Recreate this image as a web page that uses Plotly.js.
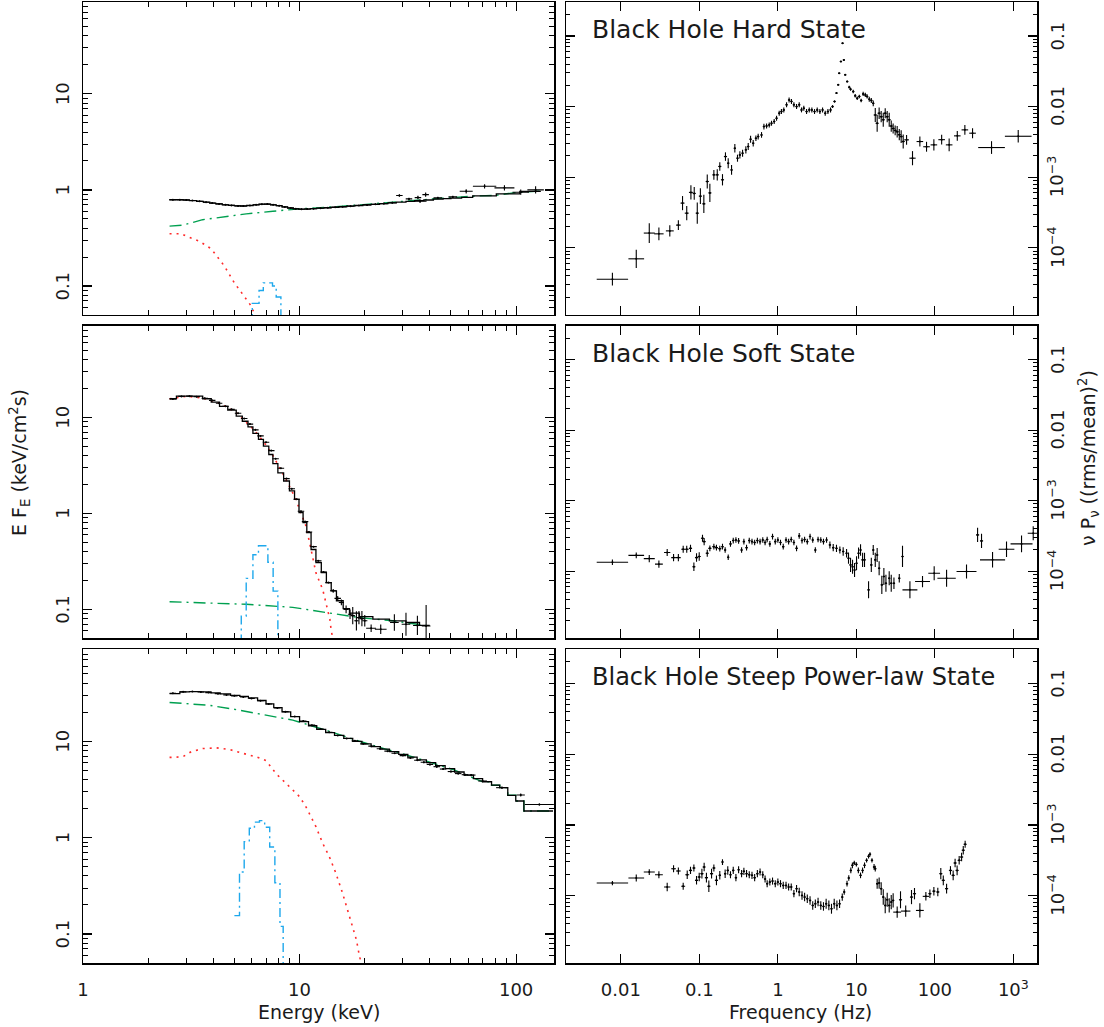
<!DOCTYPE html>
<html><head><meta charset="utf-8">
<script src="https://cdn.plot.ly/plotly-3.0.1.min.js"></script>
<style>html,body{margin:0;padding:0;background:#fff}</style>
</head><body>
<div id="chart" style="width:1104px;height:1027px"></div>
<script>
// ---------------- Energy spectra (left column) ----------------
// Hard state
const hardModelEdges = [2.5,2.7,2.9,3.1,3.35,3.6,3.85,4.1,4.4,4.7,5.0,5.35,5.7,6.1,6.5,6.9,7.35,7.8,8.3,8.8,9.35,9.9,10.5,11.2,12,13,14,15.2,16.5,18,19.6,21.4,23.4,25.6,28,31,34,37.5,41.5,46,50,56,63,81,104,130];
const hardModelVals = [0.79,0.79,0.785,0.775,0.76,0.745,0.73,0.715,0.70,0.69,0.682,0.68,0.688,0.70,0.71,0.712,0.70,0.685,0.665,0.648,0.636,0.63,0.632,0.638,0.645,0.652,0.66,0.668,0.678,0.688,0.698,0.708,0.72,0.732,0.745,0.76,0.772,0.785,0.80,0.81,0.822,0.835,0.865,0.91,0.965];
const hardE = [2.6,2.8,3.0,3.2,3.45,3.7,3.95,4.25,4.55,4.85,5.2,5.5,5.9,6.3,6.7,7.1,7.55,8.05,8.55,9.1,9.6,10.2,10.85,11.6,12.5,13.5,14.6,15.8,17.2,18.8,20.5,22.4,24.5,26.8,28.9,32.0,35.2,36.0,38.2,43.5,51,58.8,71.5,88.3,105,123];
const hardFlux = [0.79,0.79,0.785,0.775,0.76,0.745,0.73,0.715,0.70,0.69,0.682,0.68,0.688,0.70,0.71,0.712,0.70,0.685,0.665,0.648,0.636,0.63,0.632,0.638,0.645,0.652,0.66,0.668,0.678,0.688,0.698,0.708,0.72,0.735,0.874,0.806,0.832,0.763,0.894,0.826,0.846,0.968,1.09,1.05,0.946,1.0];
const hardEErr = [0.015,0.015,0.015,0.015,0.015,0.015,0.015,0.015,0.015,0.015,0.015,0.015,0.015,0.015,0.015,0.015,0.015,0.015,0.015,0.015,0.015,0.015,0.015,0.015,0.015,0.015,0.015,0.015,0.015,0.015,0.018,0.018,0.018,0.018,0.015,0.015,0.015,0.03,0.015,0.02,0.02,0.03,0.054,0.046,0.038,0.038];
const hardFluxErr = [0.006,0.006,0.006,0.006,0.006,0.006,0.006,0.006,0.006,0.006,0.006,0.006,0.006,0.006,0.006,0.006,0.006,0.006,0.006,0.006,0.006,0.006,0.006,0.006,0.006,0.006,0.006,0.006,0.006,0.006,0.008,0.008,0.01,0.01,0.012,0.012,0.018,0.02,0.022,0.012,0.012,0.022,0.022,0.027,0.027,0.038];
const hardDiskE = [2.51,2.85,3.0,3.45,3.91,4.5,5.0,5.38,5.7,5.98,6.2,6.4];
const hardDiskF = [0.35,0.35,0.33,0.292,0.244,0.161,0.108,0.085,0.072,0.062,0.051,0.045];
const hardPlE = [2.51,2.89,3.57,4.58,5.67,7.53,10,15.8,27,42.6,63,81,96.5,131];
const hardPlF = [0.42,0.43,0.49,0.53,0.563,0.60,0.635,0.676,0.75,0.81,0.86,0.88,0.93,0.975];
const hardLineEdges = [5.7,6.05,6.5,6.8,7.5,7.8,8.2,8.6,9.0];
const hardLineVals = [0.03,0.066,0.09,0.108,0.1,0.077,0.045,0.02];

// Soft state
const softModelEdges = [2.51,2.70,3.1,3.57,3.91,4.27,4.66,5.10,5.44,5.78,6.09,6.46,6.81,7.21,7.53,7.94,8.44,8.98,9.48,9.94,10.38,10.8,11.3,11.9,12.6,13.3,14.0,14.8,15.9,17.0,18.9,21.8,26.0,31.0,35.8,39.9];
const softModelVals = [15.6,16.6,16.6,15.6,14.4,13.0,11.9,10.3,9.1,7.95,6.8,5.9,5.0,4.1,3.3,2.64,2.17,1.71,1.4,1.02,0.80,0.63,0.42,0.307,0.242,0.19,0.156,0.123,0.102,0.0915,0.084,0.079,0.076,0.073,0.068];
const softE = [2.6,2.85,3.1,3.35,3.65,3.95,4.25,4.55,4.85,5.2,5.55,5.9,6.25,6.6,7.0,7.4,7.75,8.2,8.7,9.2,9.7,10.15,10.6,11.05,11.6,12.2,12.9,13.6,14.3,15.0,15.6,16.4,17.1,17.6,18.3,18.8,19.4,20.0,21.4,23.7,27.4,31,35,38.4];
const softFlux = [15.5,16.5,16.6,16.4,15.8,15.0,14.0,13.0,12.1,11.0,9.7,8.5,7.4,6.4,5.5,4.5,3.7,2.95,2.3,1.8,1.4,1.05,0.82,0.64,0.45,0.32,0.245,0.19,0.156,0.13,0.118,0.10,0.089,0.086,0.076,0.082,0.080,0.076,0.0636,0.062,0.073,0.070,0.068,0.067];
const softEErr = [0.015,0.015,0.015,0.015,0.015,0.015,0.015,0.015,0.015,0.015,0.015,0.015,0.015,0.015,0.015,0.015,0.015,0.015,0.015,0.015,0.015,0.015,0.015,0.015,0.015,0.015,0.015,0.015,0.015,0.015,0.012,0.012,0.01,0.01,0.01,0.01,0.01,0.012,0.023,0.027,0.02,0.02,0.02,0.02];
const softFluxErr = [0.006,0.006,0.006,0.006,0.006,0.006,0.006,0.006,0.006,0.006,0.006,0.006,0.006,0.006,0.006,0.006,0.006,0.006,0.006,0.006,0.006,0.006,0.006,0.006,0.006,0.006,0.006,0.006,0.02,0.025,0.03,0.04,0.05,0.09,0.1,0.07,0.08,0.06,0.04,0.05,0.087,0.12,0.1,0.22];
const softDiskE = [2.51,3.0,3.57,4.27,5.1,6.09,6.81,7.53,8.44,9.48,10.0,10.7,11.3,11.9,12.8,13.3,13.8,14.0,14.3];
const softDiskF = [15.6,16.5,15.9,14.0,11.2,7.6,5.6,4.0,2.5,1.5,1.1,0.74,0.42,0.24,0.16,0.109,0.079,0.06,0.048];
const softPlE = [2.51,5.67,9.3,13.3,18.9,27,40];
const softPlF = [0.12,0.113,0.105,0.093,0.082,0.076,0.067];
const softLineEdges = [5.1,5.38,5.67,6.09,6.46,7.14,7.55,7.94,8.22];
const softLineVals = [0.02,0.085,0.21,0.37,0.46,0.31,0.155,0.03];

// Steep power-law state
const steepModelEdges = [2.51,2.8,3.1,3.5,3.9,4.3,4.8,5.3,5.8,6.4,7.0,7.6,8.3,9.1,10,11,12,13.2,14.5,16,17.6,19.4,21.4,23.6,26,28.7,31.6,34.9,38.5,42.5,47,52,57.5,63.5,70,77,84,91.5,99.6,108.6,148];
const steepModelVals = [31.3,32.5,32.8,32.5,31.8,31.0,30.0,29.2,28.2,26.5,24.5,22.3,20.2,18.0,16.0,14.5,13.3,12.3,11.5,10.7,10.0,9.4,8.8,8.3,7.8,7.3,6.85,6.4,6.0,5.6,5.2,4.8,4.45,4.1,3.8,3.5,3.3,2.75,2.4,1.89];
const steepE = [2.6,2.9,3.2,3.5,3.8,4.2,4.6,5.0,5.5,6.0,6.6,7.2,7.9,8.6,9.5,10.4,11.4,12.5,13.7,15.0,16.5,18.0,19.7,21.5,23.5,25.5,27.5,30,32.5,35,37.5,40,43,46,50,54,58,62,70,86,105,128];
const steepFlux = [31.5,32.6,32.8,32.5,32.0,31.2,30.3,29.6,28.8,27.8,26.3,24.4,22.2,20.3,18.1,16.2,14.7,13.4,12.4,11.5,10.7,10.1,9.4,8.9,8.35,7.9,7.5,7.1,6.7,6.35,6.05,5.75,5.45,5.15,4.85,4.62,4.5,4.46,3.87,3.3,2.77,2.21];
const steepEErr = [0.015,0.015,0.015,0.015,0.015,0.015,0.015,0.015,0.015,0.015,0.015,0.015,0.015,0.015,0.015,0.015,0.015,0.015,0.015,0.015,0.015,0.015,0.015,0.015,0.015,0.015,0.015,0.015,0.015,0.015,0.015,0.015,0.015,0.015,0.015,0.015,0.015,0.02,0.02,0.027,0.019,0.067];
const steepFluxErr = [0.005,0.005,0.005,0.005,0.005,0.005,0.005,0.005,0.005,0.005,0.005,0.005,0.005,0.005,0.005,0.005,0.005,0.005,0.005,0.005,0.005,0.005,0.005,0.005,0.005,0.005,0.005,0.005,0.005,0.005,0.01,0.01,0.01,0.01,0.01,0.01,0.01,0.012,0.012,0.012,0.015,0.01];
const steepDiskE = [2.51,2.89,3.16,3.57,4.12,4.75,5.47,6.3,7.0,7.8,8.98,10,10.7,11.9,12.8,13.7,14.7,15.8,17,18.3,18.9,19.5];
const steepDiskF = [6.8,6.9,7.8,8.4,8.55,8.2,7.5,6.9,6.3,4.6,3.38,2.66,2.09,1.3,0.87,0.64,0.43,0.265,0.152,0.087,0.059,0.045];
const steepPlE = [2.51,3.0,3.84,4.92,6.53,9.3,13.3,18.9,25,33.3,51,70,77,77,84,84,91.5,91.5,99.6,99.6,108.6,108.6,148];
const steepPlF = [25.3,24.5,23.6,21.6,19.1,16.6,13.0,10.0,8.3,6.9,5.1,3.8,3.8,3.5,3.5,3.3,3.3,2.75,2.75,2.4,2.4,1.89,1.89];
const steepLineEdges = [5.0,5.28,5.55,5.86,6.19,6.53,6.9,7.28,7.69,8.12,8.4,8.7];
const steepLineVals = [0.155,0.44,0.91,1.25,1.45,1.5,1.28,0.8,0.34,0.12,0.02];

// ---------------- Power spectra (right column) ----------------
const hardF = [0.0078,0.0157,0.023,0.0305,0.042,0.054,0.061,0.069,0.078,0.086,
0.094,0.103,0.114,0.126,0.136,0.153,0.169,0.182,0.197,0.215,
0.233,0.257,0.283,0.306,0.328,0.355,0.391,0.419,0.449,0.485,
0.525,0.561,0.619,0.664,0.718,0.776,0.830,0.897,0.962,1.04,
1.11,1.19,1.29,1.39,1.49,1.60,1.73,1.87,2.0,2.14,
2.32,2.51,2.71,2.93,3.17,3.43,3.71,4.01,4.34,4.69,
4.97,5.27,5.58,5.87,6.04,6.35,6.67,6.93,7.21,7.64,
8.11,8.43,9.12,9.66,10.25,10.9,11.5,12.2,13.0,13.7,
14.6,15.5,16.4,17.4,18.4,19.5,20.7,22.0,23.3,24.7,
26.2,27.8,29.4,31.2,33.1,35.2,37.2,39.5,43.6,51.9,
64.4,78.3,97.1,122,152,193,241,302,527,1153];
const hardP = [3.6e-5,7.0e-5,1.62e-4,1.58e-4,1.74e-4,2.1e-4,4.3e-4,3.1e-4,6.1e-4,5.9e-4,
3.1e-4,5.4e-4,4.2e-4,8.7e-4,6.0e-4,1.08e-3,1.08e-3,1.42e-3,9.2e-4,1.96e-3,
1.58e-3,1.27e-3,2.57e-3,1.86e-3,2.07e-3,2.19e-3,2.44e-3,2.72e-3,3.45e-3,3.03e-3,
3.56e-3,3.76e-3,3.97e-3,5.21e-3,5.32e-3,5.5e-3,5.81e-3,6.14e-3,6.84e-3,8.05e-3,
8.5e-3,8.97e-3,1.06e-2,1.24e-2,1.18e-2,1.06e-2,1.0e-2,1.06e-2,8.97e-3,9.46e-3,
8.5e-3,8.97e-3,8.97e-3,8.5e-3,8.97e-3,8.5e-3,8.97e-3,8.05e-3,8.5e-3,8.97e-3,
1.0e-2,1.18e-2,1.55e-2,2.03e-2,2.96e-2,4.34e-2,7.87e-2,4.57e-2,2.81e-2,2.26e-2,
1.88e-2,1.76e-2,1.63e-2,1.42e-2,1.31e-2,1.39e-2,1.22e-2,1.51e-2,1.46e-2,1.39e-2,
1.27e-2,1.22e-2,1.11e-2,7.6e-3,5.8e-3,8.05e-3,7.2e-3,6.5e-3,8.05e-3,7.2e-3,
6.5e-3,5.3e-3,4.9e-3,4.6e-3,4.4e-3,4.0e-3,3.76e-3,3.2e-3,3.38e-3,1.86e-3,
3.2e-3,2.7e-3,2.87e-3,3.4e-3,2.87e-3,3.85e-3,4.68e-3,4.2e-3,2.63e-3,3.8e-3];
const hardFErr = [0.2,0.1,0.07,0.06,0.05,0.03,0.025,0.025,0.025,0.02,
0.02,0.02,0.02,0.02,0.02,0.02,0.02,0.02,0.02,0.02,
0.015,0.015,0.015,0.015,0.015,0.015,0.015,0.015,0.015,0.015,
0.015,0.015,0.015,0.015,0.015,0.015,0.015,0.015,0.015,0.015,
0.015,0.015,0.015,0.015,0.015,0.015,0.015,0.015,0.015,0.015,
0.015,0.015,0.015,0.015,0.015,0.015,0.015,0.015,0.015,0.015,
0.015,0.015,0.015,0.015,0.015,0.015,0.015,0.015,0.015,0.015,
0.015,0.015,0.015,0.015,0.015,0.015,0.015,0.015,0.015,0.015,
0.015,0.015,0.015,0.02,0.02,0.02,0.02,0.02,0.02,0.02,
0.02,0.02,0.02,0.02,0.02,0.02,0.02,0.02,0.03,0.04,
0.042,0.042,0.042,0.042,0.042,0.042,0.042,0.042,0.17,0.17];
const hardPErr = [0.09,0.13,0.14,0.09,0.08,0.07,0.1,0.1,0.1,0.09,
0.15,0.11,0.13,0.1,0.13,0.07,0.08,0.06,0.08,0.06,
0.07,0.07,0.06,0.05,0.05,0.05,0.05,0.05,0.05,0.045,
0.04,0.04,0.04,0.04,0.035,0.035,0.035,0.035,0.035,0.035,
0.035,0.035,0.035,0.035,0.035,0.035,0.035,0.035,0.035,0.035,
0.035,0.035,0.035,0.035,0.035,0.035,0.035,0.035,0.035,0.035,
0.02,0.015,0.01,0.01,0.01,0.01,0.01,0.01,0.01,0.015,
0.02,0.02,0.025,0.025,0.025,0.025,0.025,0.03,0.03,0.03,
0.035,0.035,0.04,0.1,0.12,0.08,0.08,0.1,0.07,0.08,
0.1,0.08,0.07,0.07,0.08,0.08,0.09,0.1,0.07,0.1,
0.07,0.07,0.08,0.07,0.09,0.07,0.07,0.07,0.09,0.09];

const softF = [0.0078,0.0157,0.023,0.0305,0.0389,0.0469,0.054,0.0622,0.069,0.0771,
0.0851,0.092,0.0995,0.1096,0.115,0.126,0.136,0.153,0.165,0.182,
0.197,0.213,0.233,0.249,0.27,0.292,0.316,0.345,0.369,0.399,
0.432,0.468,0.506,0.548,0.593,0.642,0.687,0.73,0.79,0.855,
0.926,1.0,1.08,1.17,1.27,1.37,1.48,1.60,1.73,1.87,
2.03,2.19,2.37,2.57,2.78,3.0,3.25,3.52,3.81,4.17,
4.6,5.07,5.58,6.16,6.79,7.5,7.94,8.43,8.94,9.48,
10.05,10.66,11.3,12.0,12.7,14.3,15.5,16.4,17.4,18.4,
19.5,21.1,22.4,23.8,26.2,27.8,30.1,35.2,38.7,48.1,
69.6,98,141,253,350,393,543,818,1271,1790];
const softP = [1.34e-4,1.68e-4,1.51e-4,1.26e-4,1.84e-4,1.56e-4,1.56e-4,2.05e-4,2.05e-4,2.11e-4,
1.16e-4,1.56e-4,1.62e-4,2.93e-4,2.63e-4,1.8e-4,2.11e-4,2.23e-4,2.16e-4,2.09e-4,
2.23e-4,2.0e-4,1.58e-4,2.44e-4,2.72e-4,2.77e-4,2.69e-4,2.0e-4,2.63e-4,2.16e-4,
2.72e-4,2.63e-4,2.55e-4,2.72e-4,2.63e-4,2.77e-4,2.55e-4,2.82e-4,2.44e-4,3.1e-4,
2.63e-4,2.77e-4,2.55e-4,2.23e-4,2.77e-4,2.63e-4,2.82e-4,2.55e-4,2.11e-4,3.17e-4,
2.72e-4,2.82e-4,2.63e-4,3.1e-4,2.77e-4,2.0e-4,2.82e-4,2.77e-4,2.63e-4,2.77e-4,
2.36e-4,2.16e-4,2.11e-4,2.0e-4,1.9e-4,1.8e-4,1.53e-4,1.23e-4,1.16e-4,1.04e-4,
1.30e-4,1.8e-4,2.0e-4,1.45e-4,1.45e-4,5.45e-5,1.23e-4,2.0e-4,1.45e-4,1.70e-4,
1.10e-4,6.41e-5,8.41e-5,6.76e-5,7.96e-5,6.76e-5,6.76e-5,7.96e-5,1.62e-4,5.45e-5,
7.14e-5,9.38e-5,7.96e-5,9.9e-5,3.27e-4,2.69e-4,1.45e-4,2.05e-4,2.44e-4,3.45e-4];
const softFErr = [0.2,0.1,0.07,0.05,0.04,0.03,0.03,0.025,0.025,0.02,
0.02,0.02,0.02,0.02,0.02,0.02,0.02,0.02,0.02,0.02,
0.015,0.015,0.015,0.015,0.015,0.015,0.015,0.015,0.015,0.015,
0.015,0.015,0.015,0.015,0.015,0.015,0.015,0.015,0.015,0.015,
0.015,0.015,0.015,0.015,0.015,0.015,0.015,0.015,0.015,0.015,
0.015,0.015,0.015,0.015,0.015,0.015,0.015,0.015,0.015,0.015,
0.015,0.015,0.015,0.015,0.015,0.015,0.015,0.015,0.015,0.015,
0.015,0.015,0.015,0.015,0.015,0.015,0.015,0.015,0.015,0.015,
0.015,0.015,0.015,0.015,0.015,0.015,0.015,0.015,0.015,0.095,
0.095,0.075,0.117,0.127,0.02,0.02,0.16,0.1,0.14,0.07];
const softPErr = [0.04,0.04,0.05,0.05,0.05,0.05,0.05,0.05,0.05,0.05,
0.06,0.06,0.06,0.05,0.05,0.05,0.04,0.04,0.04,0.04,
0.04,0.04,0.04,0.04,0.04,0.04,0.04,0.04,0.04,0.04,
0.04,0.04,0.04,0.04,0.04,0.04,0.04,0.04,0.04,0.04,
0.04,0.04,0.04,0.04,0.04,0.04,0.04,0.04,0.04,0.04,
0.04,0.04,0.04,0.04,0.04,0.04,0.04,0.04,0.04,0.04,
0.05,0.05,0.05,0.05,0.06,0.06,0.08,0.1,0.1,0.1,
0.1,0.08,0.08,0.1,0.1,0.12,0.1,0.07,0.1,0.1,
0.1,0.13,0.12,0.12,0.1,0.12,0.08,0.06,0.15,0.12,
0.08,0.1,0.12,0.1,0.1,0.1,0.11,0.11,0.12,0.1];

const steepF = [0.0078,0.0157,0.023,0.0305,0.0389,0.0469,0.054,0.0622,0.070,0.0771,
0.0851,0.092,0.0995,0.1077,0.115,0.123,0.132,0.143,0.153,0.165,
0.182,0.197,0.213,0.23,0.249,0.27,0.292,0.316,0.345,0.369,
0.399,0.432,0.468,0.506,0.548,0.593,0.642,0.687,0.73,0.79,
0.855,0.926,1.0,1.08,1.17,1.27,1.37,1.48,1.60,1.73,
1.87,2.03,2.19,2.37,2.57,2.78,3.0,3.25,3.52,3.81,
4.12,4.46,4.82,5.22,5.65,6.11,6.61,7.0,7.6,8.0,
8.5,8.9,9.4,10.0,10.6,11.3,12.0,12.7,13.5,14.3,
14.9,15.8,16.8,17.4,18.4,19.5,20.7,22.0,23.3,24.7,
26.2,27.8,29.4,33.1,36.5,42.5,50.4,55.0,64.4,76.8,
86.4,97.1,109,119,128,141,158,171,181,192,
204,219,230,243];
const steepP = [1.51e-4,1.78e-4,2.16e-4,1.98e-4,1.33e-4,2.41e-4,2.23e-4,1.36e-4,1.98e-4,2.28e-4,
2.46e-4,1.65e-4,1.84e-4,2.05e-4,2.55e-4,1.8e-4,1.36e-4,2.05e-4,2.46e-4,1.65e-4,
1.94e-4,2.99e-4,2.05e-4,2.28e-4,1.98e-4,2.28e-4,1.8e-4,2.33e-4,2.05e-4,2.21e-4,
2.05e-4,1.98e-4,1.94e-4,1.8e-4,2.05e-4,2.16e-4,1.98e-4,1.72e-4,1.48e-4,1.56e-4,
1.61e-4,1.48e-4,1.56e-4,1.48e-4,1.40e-4,1.40e-4,1.33e-4,1.33e-4,1.07e-4,1.26e-4,
1.13e-4,1.01e-4,9.57e-5,9.08e-5,8.59e-5,7.3e-5,7.7e-5,8.13e-5,7.3e-5,7.06e-5,
7.7e-5,7.3e-5,6.55e-5,7.7e-5,7.3e-5,7.7e-5,9.57e-5,1.13e-4,1.48e-4,1.78e-4,
2.28e-4,2.69e-4,2.9e-4,2.77e-4,2.28e-4,1.94e-4,2.28e-4,2.69e-4,3.16e-4,3.6e-4,
3.85e-4,3.16e-4,2.55e-4,2.41e-4,1.48e-4,1.51e-4,1.26e-4,9.57e-5,7.3e-5,8.77e-5,
7.3e-5,8.13e-5,8.59e-5,5.87e-5,8.77e-5,6.07e-5,9.57e-5,1.07e-4,6.2e-5,9.8e-5,
1.07e-4,1.16e-4,1.13e-4,2.05e-4,1.65e-4,1.26e-4,2.28e-4,1.94e-4,2.9e-4,2.28e-4,
3.16e-4,3.52e-4,4.39e-4,5.33e-4];
const steepFErr = [0.2,0.1,0.07,0.05,0.04,0.03,0.03,0.025,0.025,0.02,
0.02,0.02,0.02,0.02,0.02,0.02,0.02,0.02,0.02,0.02,
0.015,0.015,0.015,0.015,0.015,0.015,0.015,0.015,0.015,0.015,
0.015,0.015,0.015,0.015,0.015,0.015,0.015,0.015,0.015,0.015,
0.015,0.015,0.015,0.015,0.015,0.015,0.015,0.015,0.015,0.015,
0.015,0.015,0.015,0.015,0.015,0.015,0.015,0.015,0.015,0.015,
0.015,0.015,0.015,0.015,0.015,0.015,0.015,0.015,0.015,0.015,
0.015,0.015,0.015,0.015,0.015,0.015,0.015,0.015,0.015,0.015,
0.015,0.015,0.015,0.015,0.015,0.015,0.015,0.015,0.015,0.015,
0.015,0.015,0.015,0.05,0.02,0.06,0.02,0.02,0.05,0.04,
0.02,0.02,0.02,0.02,0.02,0.02,0.02,0.02,0.02,0.02,
0.02,0.02,0.02,0.02];
const steepPErr = [0.03,0.05,0.04,0.05,0.06,0.05,0.05,0.05,0.06,0.05,
0.05,0.06,0.06,0.07,0.06,0.07,0.08,0.07,0.05,0.07,
0.06,0.04,0.06,0.06,0.05,0.05,0.05,0.05,0.05,0.05,
0.05,0.05,0.05,0.05,0.05,0.05,0.05,0.05,0.05,0.05,
0.05,0.05,0.05,0.05,0.05,0.05,0.05,0.05,0.05,0.05,
0.06,0.06,0.06,0.06,0.06,0.06,0.06,0.06,0.06,0.06,
0.07,0.07,0.07,0.07,0.07,0.06,0.05,0.04,0.04,0.04,
0.04,0.04,0.03,0.03,0.04,0.04,0.04,0.04,0.03,0.03,
0.03,0.03,0.04,0.04,0.07,0.08,0.09,0.11,0.11,0.1,
0.1,0.1,0.1,0.08,0.12,0.08,0.1,0.08,0.1,0.06,
0.06,0.06,0.06,0.08,0.07,0.07,0.06,0.07,0.06,0.07,
0.06,0.06,0.06,0.05];

// ---------------- labels ----------------
const stateLabels = ['Black Hole Hard State', 'Black Hole Soft State', 'Black Hole Steep Power-law State'];
const energyTicks = [1, 10, 100];
const energyTickText = ['1', '10', '100'];
const fluxTicks = [0.1, 1, 10];
const fluxTickText = ['0.1', '1', '10'];
const freqTicks = [0.01, 0.1, 1, 10, 100, 1000];
const freqTickText = ['0.01', '0.1', '1', '10', '100', '10<sup>3</sup>'];
const powerTicks = [1e-4, 1e-3, 0.01, 0.1];
const powerTickText = ['10<sup>\u22124</sup>', '10<sup>\u22123</sup>', '0.01', '0.1'];

// ---------------- helpers ----------------
const RED = '#ff2a2a', GREEN = '#00a050', CYAN = '#1ea8ec', INK = '#1a1a1a';
const FAM = 'DejaVu Sans';
function dexErr(vals, dex) {
  return {type:'data', symmetric:false,
    array: vals.map((v,i)=>v*(Math.pow(10,dex[i])-1)),
    arrayminus: vals.map((v,i)=>v*(1-Math.pow(10,-dex[i]))),
    color:'#000', thickness:1.1, width:0};
}
function dataTrace(x, y, xd, yd, xa, ya) {
  return {type:'scatter', mode:'markers', x:x, y:y, xaxis:xa, yaxis:ya,
    marker:{size:2, color:'#000'}, error_x:dexErr(x, xd), error_y:dexErr(y, yd),
    showlegend:false, hoverinfo:'skip'};
}
function stepTrace(edges, vals, color, width, dash, xa, ya) {
  return {type:'scatter', mode:'lines', x:edges, y:vals.concat([vals[vals.length-1]]),
    xaxis:xa, yaxis:ya, line:{shape:'hv', color:color, width:width, dash:dash},
    showlegend:false, hoverinfo:'skip'};
}
function lineTrace(x, y, color, width, dash, xa, ya) {
  return {type:'scatter', mode:'lines', x:x, y:y, xaxis:xa, yaxis:ya,
    line:{color:color, width:width, dash:dash, shape:'linear'},
    showlegend:false, hoverinfo:'skip'};
}
function logMinor(lo, hi, vmin, vmax) {
  const v = [];
  for (let e = lo; e <= hi; e++) for (let m = 2; m <= 9; m++) {
    const t = m*Math.pow(10,e); if (t >= vmin && t <= vmax) v.push(t);
  }
  return v;
}

const DOTS = '2px,5px', DASHDOT = '12px,5px,2px,5px', CYDASH = '9px,4px,2px,4px';
const traces = [];
const left = [
  {xa:'x', ya:'y', me:hardModelEdges, mv:hardModelVals, e:hardE, f:hardFlux, ee:hardEErr, fe:hardFluxErr,
   de:hardDiskE, df:hardDiskF, pe:hardPlE, pf:hardPlF, le:hardLineEdges, lv:hardLineVals},
  {xa:'x2', ya:'y2', me:softModelEdges, mv:softModelVals, e:softE, f:softFlux, ee:softEErr, fe:softFluxErr,
   de:softDiskE, df:softDiskF, pe:softPlE, pf:softPlF, le:softLineEdges, lv:softLineVals},
  {xa:'x3', ya:'y3', me:steepModelEdges, mv:steepModelVals, e:steepE, f:steepFlux, ee:steepEErr, fe:steepFluxErr,
   de:steepDiskE, df:steepDiskF, pe:steepPlE, pf:steepPlF, le:steepLineEdges, lv:steepLineVals}
];
left.forEach(p => {
  traces.push(lineTrace(p.de, p.df, RED, 1.6, DOTS, p.xa, p.ya));
  traces.push(lineTrace(p.pe, p.pf, GREEN, 1.4, DASHDOT, p.xa, p.ya));
  traces.push(stepTrace(p.le, p.lv, CYAN, 1.4, CYDASH, p.xa, p.ya));
  traces.push(stepTrace(p.me, p.mv, '#000', 1.3, 'solid', p.xa, p.ya));
  traces.push(dataTrace(p.e, p.f, p.ee, p.fe, p.xa, p.ya));
});
traces.push(dataTrace(hardF, hardP, hardFErr, hardPErr, 'x4', 'y4'));
traces.push(dataTrace(softF, softP, softFErr, softPErr, 'x5', 'y5'));
traces.push(dataTrace(steepF, steepP, steepFErr, steepPErr, 'x6', 'y6'));

// ---------------- layout ----------------
const tickFont = {family:FAM, size:18, color:INK};
const base = {type:'log', showline:true, linecolor:'#000', linewidth:1.5, mirror:'allticks',
  ticks:'inside', tickcolor:'#000', tickwidth:1.2, ticklen:9, showgrid:false, zeroline:false,
  tickmode:'array', tickfont:tickFont, fixedrange:true};
const rows = [[0.6743, 1.0], [0.3379, 0.6632], [0.0, 0.3264]];
const leftDom = [0, 0.494], rightDom = [0.5063, 1];
const M = {l:83, r:67, t:2, b:64};
const PW = 1104 - M.l - M.r;
const layout = {width:1104, height:1027, margin:M,
  paper_bgcolor:'#fff', plot_bgcolor:'#fff', showlegend:false, hovermode:false,
  font:{family:FAM, color:INK}, annotations:[]};
for (let r = 0; r < 3; r++) {
  const li = r === 0 ? '' : String(r+1);
  const ri = String(r+4);
  layout['xaxis'+li] = Object.assign({}, base, {domain:leftDom, anchor:'y'+li,
    range:[0, Math.log10(150)], tickvals:energyTicks, ticktext:energyTickText,
    showticklabels: r === 2, ticklabelstandoff:10,
    minor:{ticks:'inside', ticklen:5, tickcolor:'#000', tickwidth:1, tickmode:'array', tickvals:logMinor(0,2,1,150)}});
  layout['yaxis'+li] = Object.assign({}, base, {domain:rows[r], anchor:'x'+li,
    range:[Math.log10(0.05), Math.log10(90)], tickvals:fluxTicks, showticklabels:false,
    minor:{ticks:'inside', ticklen:5, tickcolor:'#000', tickwidth:1, tickmode:'array', tickvals:logMinor(-2,1,0.05,90)}});
  layout['xaxis'+ri] = Object.assign({}, base, {domain:rightDom, anchor:'y'+ri,
    range:[Math.log10(0.002), Math.log10(2000)], tickvals:freqTicks, ticktext:freqTickText,
    showticklabels: r === 2, ticklabelstandoff:10});
  layout['yaxis'+ri] = Object.assign({}, base, {domain:rows[r], anchor:'x'+ri, side:'right',
    range:[-4.95, -0.52], tickvals:powerTicks, showticklabels:false,
    minor:{ticks:'inside', ticklen:4, tickcolor:'#000', tickwidth:1, tickmode:'array', tickvals:logMinor(-5,-1,1.1e-5,0.3)}});
  // rotated y tick labels (as in the original, reading bottom-to-top)
  fluxTicks.forEach((v, i) => layout.annotations.push({text:fluxTickText[i], xref:'paper', yref:'y'+li,
    x:(75 - M.l)/PW, y:Math.log10(v), xanchor:'right', yanchor:'middle', textangle:-90, showarrow:false,
    font:{family:FAM, size:18, color:INK}}));
  powerTicks.forEach((v, i) => layout.annotations.push({text:powerTickText[i], xref:'paper', yref:'y'+ri,
    x:(1070 - M.l)/PW, y:Math.log10(v), xanchor:'right', yanchor:'middle', textangle:-90, showarrow:false,
    font:{family:FAM, size:18, color:INK}}));
}
const labelY = [0.9714, 0.6342, 0.2976];
const labelSize = [25, 25, 24];
stateLabels.forEach((t, i) => layout.annotations.push({text:t, xref:'paper', yref:'paper',
  x:(590 - M.l)/PW, y:labelY[i], xanchor:'left', yanchor:'middle', showarrow:false,
  font:{family:FAM, size:labelSize[i], color:INK}}));
layout.annotations.push({text:'Energy (keV)', xref:'paper', yref:'paper', x:0.2469, y:-0.051,
  xanchor:'center', yanchor:'middle', showarrow:false, font:{family:FAM, size:19, color:INK}});
layout.annotations.push({text:'Frequency (Hz)', xref:'paper', yref:'paper', x:0.7516, y:-0.051,
  xanchor:'center', yanchor:'middle', showarrow:false, font:{family:FAM, size:19, color:INK}});
layout.annotations.push({text:'E F<sub>E</sub> (keV/cm<sup>2</sup>s)', xref:'paper', yref:'paper', x:-0.066, y:0.5203,
  xanchor:'center', yanchor:'middle', textangle:-90, showarrow:false, font:{family:FAM, size:19, color:INK}});
layout.annotations.push({text:'\u03bd P<sub>\u03bd</sub> ((rms/mean)<sup>2</sup>)', xref:'paper', yref:'paper', x:1.0545, y:0.5255,
  xanchor:'center', yanchor:'middle', textangle:-90, showarrow:false, font:{family:FAM, size:19, color:INK}});

Plotly.newPlot('chart', traces, layout, {staticPlot:true, displayModeBar:false});
</script>
</body></html>
